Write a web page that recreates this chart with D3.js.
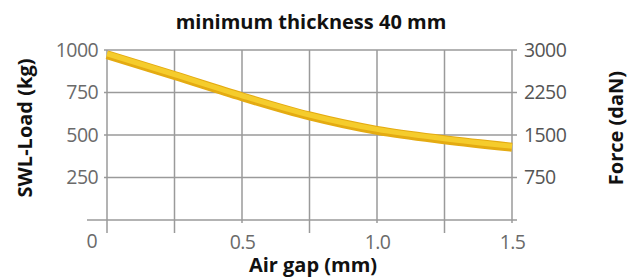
<!DOCTYPE html>
<html lang="en">
<head>
<meta charset="UTF-8">
<title>SWL-Load vs Air gap</title>
<style>
	body { margin: 0; background: #fff; }
	text { font-family: "Open Sans", sans-serif; }
	.tick text { fill: #6a6a6a; font-size: 19.5px; letter-spacing: -0.6px; }
	.axis-r .tick text { fill: #555; }
	.grid line { stroke: #9a9a9a; stroke-width: 1.5; }
	.lbl { font-weight: bold; fill: #111; font-size: 20px; }
</style>
</head>
<body>
<script src="https://d3js.org/d3.v7.min.js"></script>
<script>
	let width = 637;
	let height = 280;
	let margin = { top: 50, right: 125, bottom: 60, left: 107 };

	// data
	let airGap = [0, 0.25, 0.5, 0.75, 1.0, 1.25, 1.5];
	let swlLoad = [972, 850, 725, 612, 527, 472, 428];
	let xTicks = [0.5, 1.0, 1.5];
	let xTickLabels = ['0.5', '1.0', '1.5'];
	let xGrid = [0, 0.25, 0.5, 0.75, 1.0, 1.25, 1.5];
	let yTicks = [250, 500, 750, 1000];
	let forceTicks = [750, 1500, 2250, 3000];

	let x = d3.scaleLinear().domain([0, 1.5]).range([margin.left, width - margin.right]);
	let y = d3.scaleLinear().domain([0, 1000]).range([height - margin.bottom, margin.top]);
	let yR = d3.scaleLinear().domain([0, 3000]).range([height - margin.bottom, margin.top]);

	let svg = d3.select('body').append('svg')
		.attr('width', width)
		.attr('height', height);

	// grid
	let grid = svg.append('g').attr('class', 'grid');
	grid.selectAll('.v').data(xGrid).enter().append('line')
		.attr('x1', d => x(d)).attr('x2', d => x(d))
		.attr('y1', y(1000))
		.attr('y2', d => (xTicks.indexOf(d) >= 0 ? y(0) + 3 : y(0) + 13));
	grid.selectAll('.h').data(yTicks).enter().append('line')
		.attr('x1', x(0) - 3).attr('x2', x(1.5) + 5)
		.attr('y1', d => y(d)).attr('y2', d => y(d));
	grid.append('line')
		.attr('x1', x(0) - 20).attr('x2', x(1.5) + 5)
		.attr('y1', y(0)).attr('y2', y(0));

	// axes (labels only)
	let axL = svg.append('g')
		.attr('transform', 'translate(' + (x(0) - 6) + ',0)')
		.call(d3.axisLeft(y).tickValues(yTicks).tickFormat(d3.format('d')).tickSize(0));
	axL.select('.domain').remove();

	let axR = svg.append('g').attr('class', 'axis-r')
		.attr('transform', 'translate(' + (x(1.5) + 9) + ',0)')
		.call(d3.axisRight(yR).tickValues(forceTicks).tickFormat(d3.format('d')).tickSize(0));
	axR.select('.domain').remove();

	let axB = svg.append('g')
		.attr('transform', 'translate(0,' + (y(0) + 12) + ')')
		.call(d3.axisBottom(x).tickValues(xTicks).tickFormat((d, i) => xTickLabels[i]).tickSize(0));
	axB.select('.domain').remove();
	axB.selectAll('.tick text').attr('dy', '0.71em');

	// zero label
	svg.append('text')
		.attr('x', x(0) - 15).attr('y', y(0) + 28)
		.attr('text-anchor', 'middle')
		.attr('fill', '#6a6a6a').attr('font-size', '19.5px')
		.text('0');

	// curve
	let line = d3.line()
		.x((d, i) => x(airGap[i]))
		.y(d => y(d))
		.curve(d3.curveMonotoneX);

	svg.append('path')
		.attr('d', line(swlLoad))
		.attr('fill', 'none')
		.attr('stroke', '#e4ab12')
		.attr('stroke-width', 9);
	svg.append('path')
		.attr('d', line(swlLoad))
		.attr('transform', 'translate(0,-1)')
		.attr('fill', 'none')
		.attr('stroke', '#f5cc2c')
		.attr('stroke-width', 5);

	// titles
	svg.append('text').attr('class', 'lbl')
		.attr('x', 311).attr('y', 29)
		.attr('text-anchor', 'middle')
		.text('minimum thickness 40 mm');
	svg.append('text').attr('class', 'lbl')
		.attr('x', 313).attr('y', 272)
		.attr('text-anchor', 'middle')
		.text('Air gap (mm)');
	svg.append('text').attr('class', 'lbl')
		.attr('transform', 'translate(32,128) rotate(-90)')
		.attr('text-anchor', 'middle')
		.text('SWL-Load (kg)');
	svg.append('text').attr('class', 'lbl')
		.attr('transform', 'translate(623,128) rotate(-90)')
		.attr('text-anchor', 'middle')
		.text('Force (daN)');
</script>
</body>
</html>
